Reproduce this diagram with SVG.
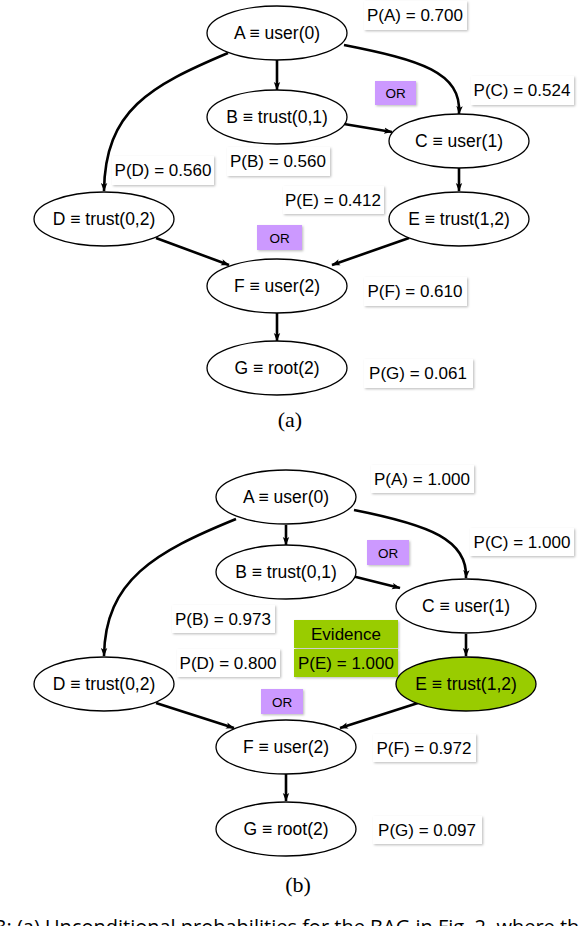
<svg xmlns="http://www.w3.org/2000/svg" width="582" height="926" viewBox="0 0 582 926">
<defs>
<marker id="arr" markerWidth="9" markerHeight="8" refX="8" refY="4" orient="auto" markerUnits="userSpaceOnUse">
<path d="M0,0.8 L8.5,4 L0,7.2 L2,4 Z" fill="#000"/>
</marker>
<filter id="sh" x="-10%" y="-10%" width="130%" height="140%">
<feDropShadow dx="1.2" dy="1.2" stdDeviation="0.8" flood-color="#000" flood-opacity="0.25"/>
</filter>
</defs>
<style>
.n ellipse{fill:#fff;stroke:#000;stroke-width:1.3}
.n text{font-family:"Liberation Sans",Arial,sans-serif;font-size:17.5px;text-anchor:middle;fill:#000}
.lb text{font-family:"Liberation Sans",Arial,sans-serif;font-size:17px;text-anchor:middle;fill:#000}
.lb rect{fill:#fff;filter:url(#sh)}
.or rect{fill:#cc99ff;filter:url(#sh)}
.or text{font-family:"Liberation Sans",Arial,sans-serif;font-size:13.5px;text-anchor:middle;fill:#000}
.ev rect{fill:#99cc00}
.c path{fill:none;stroke:#000;stroke-width:2.6;marker-end:url(#arr)}
.cap{font-family:"Liberation Serif","DejaVu Serif",serif;font-size:22px;text-anchor:middle}
</style>
<rect width="582" height="926" fill="#fff"/>

<!-- (a) connectors -->
<g id="connectors-a" class="c">
<path d="M277,60 L277,90"/>
<path d="M344,45 C420,60 462,72 459,114"/>
<path d="M344,124 L392,132"/>
<path d="M228,53 C150,86 105,110 104,191"/>
<path d="M459,168 L459,191"/>
<path d="M156,238 L229,265"/>
<path d="M409,238 L332,265"/>
<path d="M277,312 L277,341"/>
</g>

<!-- (a) nodes -->
<g id="a-A" class="n"><ellipse cx="277" cy="33" rx="70" ry="27"/><text x="277" y="39">A ≡ user(0)</text></g>
<g id="a-B" class="n"><ellipse cx="277" cy="117" rx="70" ry="27"/><text x="277" y="123">B ≡ trust(0,1)</text></g>
<g id="a-C" class="n"><ellipse cx="459" cy="141" rx="70" ry="27"/><text x="459" y="147">C ≡ user(1)</text></g>
<g id="a-D" class="n"><ellipse cx="104" cy="219" rx="70" ry="27"/><text x="104" y="225">D ≡ trust(0,2)</text></g>
<g id="a-E" class="n"><ellipse cx="459" cy="219" rx="70" ry="27"/><text x="459" y="225">E ≡ trust(1,2)</text></g>
<g id="a-F" class="n"><ellipse cx="277" cy="286" rx="70" ry="27"/><text x="277" y="292">F ≡ user(2)</text></g>
<g id="a-G" class="n"><ellipse cx="277" cy="368" rx="70" ry="27"/><text x="277" y="374">G ≡ root(2)</text></g>

<g id="a-labels">
<g id="a-PA" class="lb"><rect x="364" y="1" width="103" height="29"/><text x="415" y="21">P(A) = 0.700</text></g>
<g id="a-PC" class="lb"><rect x="471" y="76" width="103" height="29"/><text x="522" y="96">P(C) = 0.524</text></g>
<g id="a-PD" class="lb"><rect x="112" y="156" width="102" height="29"/><text x="163" y="176">P(D) = 0.560</text></g>
<g id="a-PB" class="lb"><rect x="227" y="147" width="103" height="29"/><text x="278" y="167">P(B) = 0.560</text></g>
<g id="a-PE" class="lb"><rect x="283" y="186" width="101" height="28"/><text x="333" y="206">P(E) = 0.412</text></g>
<g id="a-PF" class="lb"><rect x="364" y="277" width="103" height="29"/><text x="415" y="297">P(F) = 0.610</text></g>
<g id="a-PG" class="lb"><rect x="364" y="359" width="109" height="29"/><text x="418" y="379">P(G) = 0.061</text></g>
<g id="a-OR1" class="or"><rect x="375" y="81" width="41" height="24"/><text x="395.5" y="98">OR</text></g>
<g id="a-OR2" class="or"><rect x="257" y="225" width="45" height="25"/><text x="279.5" y="243">OR</text></g>
</g>
<text class="cap" x="290" y="427">(a)</text>

<!-- (b) connectors -->
<g id="connectors-b" class="c">
<path d="M286,525 L286,545"/>
<path d="M354,510 C430,525 468,540 466,578"/>
<path d="M352,576 L400,588"/>
<path d="M236,519 C155,552 105,580 104,656"/>
<path d="M466,634 L466,656"/>
<path d="M156,703 L234,728"/>
<path d="M418,703 L340,728"/>
<path d="M286,774 L286,801"/>
</g>

<!-- (b) nodes -->
<g id="b-A" class="n"><ellipse cx="286" cy="497" rx="70" ry="27"/><text x="286" y="503">A ≡ user(0)</text></g>
<g id="b-B" class="n"><ellipse cx="286" cy="572" rx="70" ry="27"/><text x="286" y="578">B ≡ trust(0,1)</text></g>
<g id="b-C" class="n"><ellipse cx="466" cy="606" rx="70" ry="27"/><text x="466" y="612">C ≡ user(1)</text></g>
<g id="b-D" class="n"><ellipse cx="104" cy="684" rx="70" ry="27"/><text x="104" y="690">D ≡ trust(0,2)</text></g>
<g id="b-E" class="n"><ellipse cx="466" cy="684" rx="70" ry="27" style="fill:#99cc00"/><text x="466" y="690">E ≡ trust(1,2)</text></g>
<g id="b-F" class="n"><ellipse cx="286" cy="747" rx="70" ry="27"/><text x="286" y="753">F ≡ user(2)</text></g>
<g id="b-G" class="n"><ellipse cx="286" cy="829" rx="70" ry="27"/><text x="286" y="835">G ≡ root(2)</text></g>

<g id="b-labels">
<g id="b-PA" class="lb"><rect x="371" y="465" width="103" height="28"/><text x="422" y="485">P(A) = 1.000</text></g>
<g id="b-PC" class="lb"><rect x="470" y="528" width="104" height="28"/><text x="522" y="548">P(C) = 1.000</text></g>
<g id="b-PB" class="lb"><rect x="172" y="605" width="103" height="28"/><text x="223" y="625">P(B) = 0.973</text></g>
<g id="b-PD" class="lb"><rect x="177" y="649" width="103" height="28"/><text x="228" y="669">P(D) = 0.800</text></g>
<g id="b-EV" class="ev lb"><rect x="294" y="620" width="104" height="28"/><text x="346" y="640">Evidence</text></g>
<g id="b-PE" class="ev lb"><rect x="294" y="649" width="104" height="28"/><text x="346" y="669">P(E) = 1.000</text></g>
<g id="b-PF" class="lb"><rect x="373" y="734" width="103" height="28"/><text x="424" y="754">P(F) = 0.972</text></g>
<g id="b-PG" class="lb"><rect x="373" y="816" width="109" height="28"/><text x="427" y="836">P(G) = 0.097</text></g>
<g id="b-OR1" class="or"><rect x="367" y="540" width="42" height="25"/><text x="388" y="558">OR</text></g>
<g id="b-OR2" class="or"><rect x="261" y="689" width="42" height="25"/><text x="282" y="707">OR</text></g>
</g>
<text class="cap" x="298" y="892">(b)</text>

<text x="-5" y="934" style="font-family:'Open Sans','DejaVu Sans',sans-serif;font-size:20px;fill:#000">3: (a) Unconditional probabilities for the BAG in Fig. 2, where th</text>
</svg>
